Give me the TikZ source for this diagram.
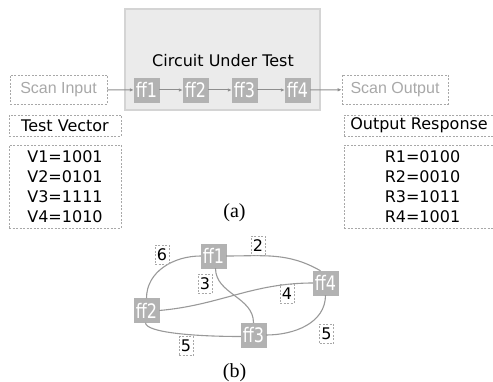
\documentclass[tikz,border=0pt]{standalone}
\usepackage{fontspec}
\setmainfont{DejaVu Sans}
\newfontfamily\scanfont{Liberation Sans}
\newfontfamily\fffont[FakeStretch=0.8]{DejaVu Sans}
\newfontfamily\capfont{Liberation Serif}
\usetikzlibrary{arrows.meta}

\definecolor{ffgray}{HTML}{B2B2B2}
\definecolor{cutfill}{HTML}{EBEBEB}
\definecolor{cutline}{HTML}{D4D4D4}
\definecolor{wire}{HTML}{8E8E8E}
\definecolor{edgegray}{HTML}{999999}
\definecolor{dashgray}{HTML}{A8A8A8}

\begin{document}
\begin{tikzpicture}[
    x=1pt, y=-1pt,
    >={Latex[length=4pt,width=3.5pt]},
    % --- Styles ---
    cutbox/.style={draw=cutline, line width=1.2pt, fill=cutfill, inner sep=0pt},
    ffbox/.style={fill=ffgray, draw=ffgray, minimum width=25pt, minimum height=24pt, inner sep=0pt, text=white, font=\fffont\fontsize{20}{20}\selectfont},
    dashbox/.style={draw=dashgray, dash pattern=on 2pt off 1.5pt, line width=0.6pt, inner sep=0pt},
    scanbox/.style={dashbox, minimum height=29pt, text=dashgray, font=\scanfont\fontsize{16}{18}\selectfont},
    headbox/.style={dashbox, minimum height=21pt, font=\fontsize{16}{18}\selectfont},
    listbox/.style={dashbox, minimum height=83pt, align=center, font=\fontsize{16}{20}\selectfont},
    numbox/.style={dashbox, minimum width=14pt, minimum height=19pt, font=\fontsize{16}{18}\selectfont},
    scanarrow/.style={->, line width=1pt, color=wire},
    ffedge/.style={line width=1.1pt, color=edgegray},
    caption/.style={font=\capfont\fontsize{20}{22}\selectfont},
]
    \useasboundingbox (0,0) rectangle (493,382);

    % ==========================
    % (a) SCAN CHAIN
    % ==========================
    \node[cutbox, minimum width=195pt, minimum height=101pt] (cut) at (222.5,59.5) {};
    \node[font=\fontsize{16}{18}\selectfont] (cuttitle) at (223,61) {Circuit Under Test};

    \node[ffbox] (a1) at (146.5,90) {ff1};
    \node[ffbox] (a2) at (195.5,90) {ff2};
    \node[ffbox] (a3) at (244.5,90) {ff3};
    \node[ffbox] (a4) at (297.5,90) {ff4};

    \node[scanbox, minimum width=97pt] (scanin) at (58.5,89.5) {Scan Input};
    \node[scanbox, minimum width=106pt] (scanout) at (395,89.5) {Scan Output};

    \draw[scanarrow] (scanin) -- (a1);
    \draw[scanarrow] (a1) -- (a2);
    \draw[scanarrow] (a2) -- (a3);
    \draw[scanarrow] (a3) -- (a4);
    \draw[scanarrow] (a4) -- (scanout);

    % test vectors / responses
    \node[headbox, minimum width=112pt] (vechead) at (65,125.5) {Test Vector};
    \node[listbox, minimum width=112pt] (veclist) at (65,186.5) {V1=1001\\V2=0101\\V3=1111\\V4=1010};

    \node[headbox, anchor=west, inner xsep=6pt] (resphead) at (344,125.5) {Output Response};
    \node[listbox, minimum width=157pt] (resplist) at (422.5,186.5) {R1=0100\\R2=0010\\R3=1011\\R4=1001};

    \node[caption] (capa) at (234.5,213) {(a)};

    % ==========================
    % (b) FLIP-FLOP GRAPH
    % ==========================
    \node[ffbox] (b1) at (213.5,256) {ff1};
    \node[ffbox] (b2) at (146.5,310.5) {ff2};
    \node[ffbox] (b3) at (253.5,335) {ff3};
    \node[ffbox] (b4) at (325.5,283) {ff4};

    \draw[ffedge] (b1.west) to[out=180,in=90] (b2.north);
    \draw[ffedge] (b1.east) to[out=0,in=150] ([xshift=-5pt]b4.north);
    \draw[ffedge] ([xshift=2pt]b1.south) to[out=-90,in=90] (b3.north);
    \draw[ffedge] (b2.east) to[out=5,in=180] (b4.west);
    \draw[ffedge] ([xshift=-1pt]b2.south) .. controls +(0,10) and +(-45,0) .. ([yshift=-1.5pt]b3.west);
    \draw[ffedge] (b3.east) to[out=0,in=-90] (b4.south);

    \node[numbox] (w12) at (162,255) {6};
    \node[numbox] (w14) at (258,246) {2};
    \node[numbox] (w13) at (205,284) {3};
    \node[numbox] (w24) at (287,294) {4};
    \node[numbox] (w34) at (326.5,334) {5};
    \node[numbox] (w23) at (186,346) {5};

    \node[caption] (capb) at (234.5,373) {(b)};

\end{tikzpicture}
\end{document}
